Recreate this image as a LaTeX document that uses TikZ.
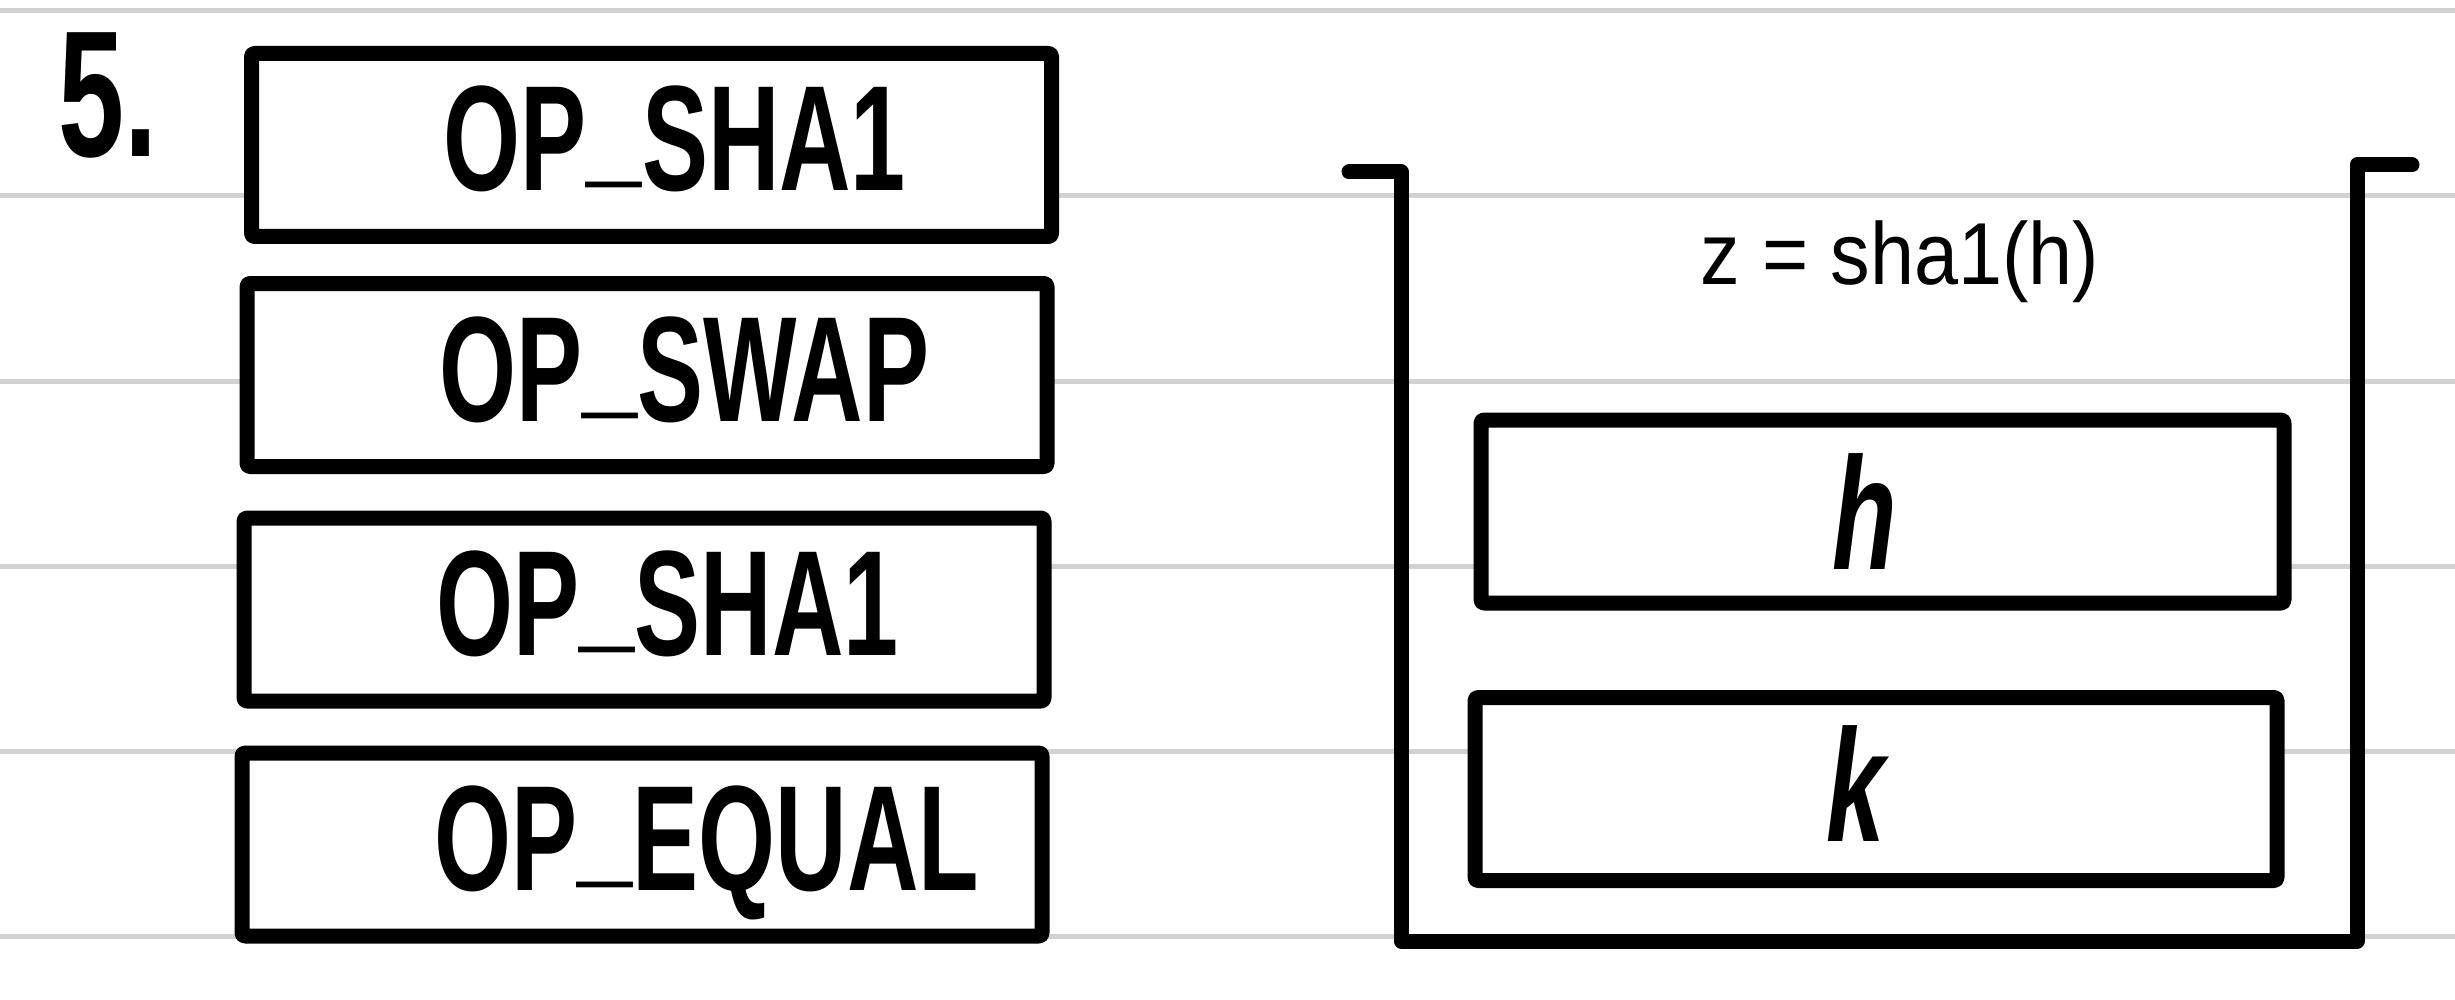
\documentclass[tikz,border=0pt]{standalone}
\usepackage{fontspec}
\setmainfont{Liberation Sans}
\newfontfamily\hand[FakeStretch=0.66]{Liberation Sans}
\newfontfamily\handsm[FakeStretch=0.9]{Liberation Sans}
\newcommand\usc{\raisebox{0.14em}{\_}}

\begin{document}
\begin{tikzpicture}[x=0.5pt, y=-0.5pt,
    rule/.style={gray!35, line width=2.5pt},
    box/.style={draw, fill=white, line width=7.5pt, line join=round, rounded corners=1.5pt, inner sep=0pt, outer sep=0pt, minimum width=400pt, minimum height=91.5pt},
    optext/.style={inner sep=0pt, anchor=base west, font=\hand\bfseries\fontsize{75}{75}\selectfont},
    var/.style={inner sep=0pt, font=\hand\bfseries\itshape\fontsize{80}{80}\selectfont, text height=58pt, text depth=0pt},
    wall/.style={line width=7.5pt, line cap=round, line join=round}]
  \useasboundingbox (0,0) rectangle (2455,1000);
  % ruled paper
  \foreach \y in {11,196,381,566,751,936}
    \draw[rule] (0,\y) -- (2455,\y);
  \node[inner sep=0pt, anchor=base west, font=\hand\bfseries\fontsize{90}{90}\selectfont] (num) at (58,157) {5.};
  % script
  \node[box] (sha1a) at (651.5,145) {};
  \node[box] (swap) at (647,375) {};
  \node[box] (sha1b) at (644,609.5) {};
  \node[box] (equal) at (642,844.5) {};
  \node[optext] (sha1atxt) at ([xshift=96pt, yshift=-23pt]sha1a.west) {OP\usc SHA1};
  \node[optext] (swaptxt) at ([xshift=96pt, yshift=-23pt]swap.west) {OP\usc SWAP};
  \node[optext] (sha1btxt) at ([xshift=96pt, yshift=-23pt]sha1b.west) {OP\usc SHA1};
  \node[optext] (equaltxt) at ([xshift=96pt, yshift=-23pt]equal.west) {OP\usc EQUAL};
  % stack
  \draw[wall] (1349,172) -- (1401,172) -- (1401,941) -- (2357,941) -- (2357,165) -- (2412,165);
  \node[inner sep=0pt, anchor=base, font=\handsm\fontsize{44}{44}\selectfont] (zlbl) at (1900,285) {z = sha1(h)};
  \node[box, minimum width=401.5pt] (hbox) at (1882.5,511.5) {};
  \node[box, minimum width=401pt] (kbox) at (1876,789) {};
  \node[var] (hlbl) at ([xshift=-9pt]hbox.center) {h};
  \node[var] (klbl) at ([xshift=-10pt, yshift=3pt]kbox.center) {k};
\end{tikzpicture}
\end{document}
